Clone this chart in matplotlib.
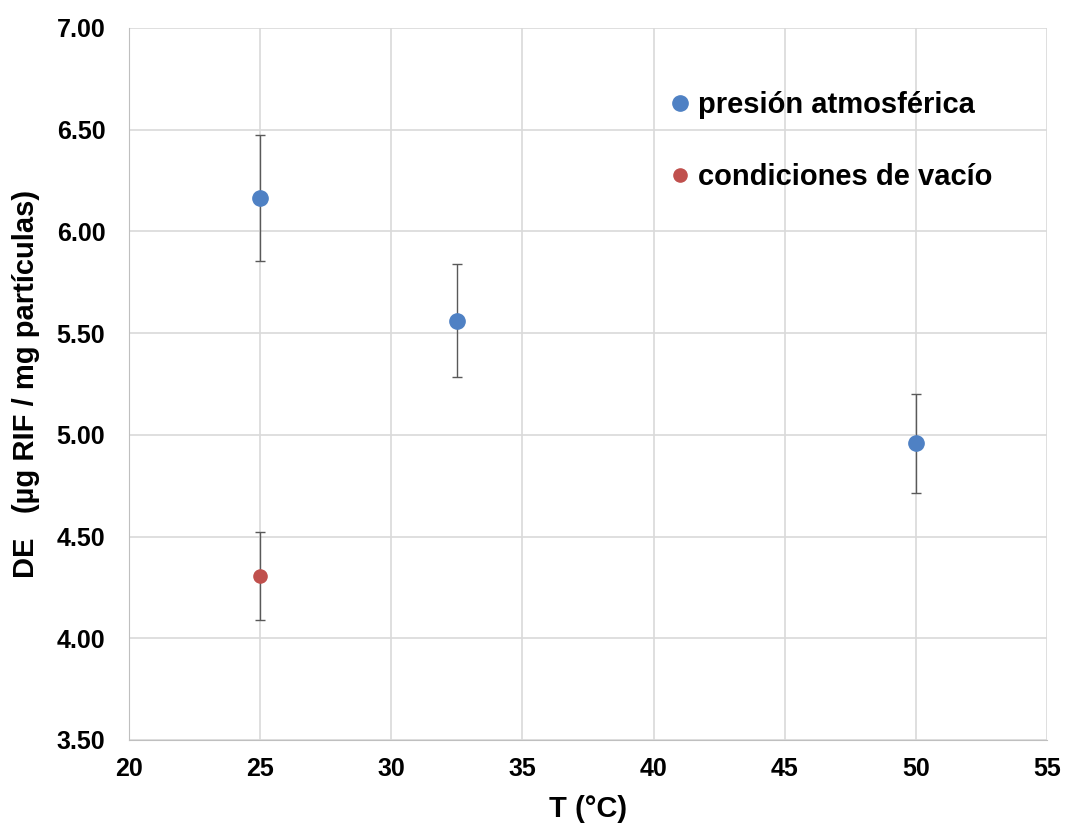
import matplotlib.pyplot as plt

# --- data ---
t_atm = [25, 32.5, 50]
de_atm = [6.165, 5.562, 4.958]
err_atm = [0.31, 0.28, 0.245]

t_vac = [25]
de_vac = [4.305]
err_vac = [0.215]

x_ticks = [20, 25, 30, 35, 40, 45, 50, 55]
y_ticks = [3.5, 4.0, 4.5, 5.0, 5.5, 6.0, 6.5, 7.0]

plt.rcParams['font.family'] = ['Liberation Sans', 'DejaVu Sans']
plt.rcParams['font.weight'] = 'bold'

fig = plt.figure(figsize=(10.65, 8.23), dpi=100)
ax = fig.add_axes([0.1211, 0.1009, 0.862, 0.8651])

ax.errorbar(t_atm, de_atm, yerr=err_atm, fmt='o', color='#4f81c4', ms=11,
            ecolor='#595959', elinewidth=1.0, capsize=3.5, capthick=1.0,
            label='presión atmosférica', zorder=3)
ax.errorbar(t_vac, de_vac, yerr=err_vac, fmt='o', color='#c0504d', ms=9.5,
            ecolor='#595959', elinewidth=1.0, capsize=3.5, capthick=1.0,
            label='condiciones de vacío', zorder=3)

ax.set_xlim(20, 55)
ax.set_ylim(3.5, 7.0)
ax.set_xticks(x_ticks)
ax.set_yticks(y_ticks)
ax.set_yticklabels([f'{v:.2f}' for v in y_ticks])
ax.tick_params(labelsize=18, length=0)
ax.tick_params(axis='y', pad=17)
ax.tick_params(axis='x', pad=12)
ax.grid(True, color='#d9d9d9', linewidth=1.2)
ax.set_axisbelow(True)
for s in ['top', 'right']:
    ax.spines[s].set_visible(False)
for s in ['left', 'bottom']:
    ax.spines[s].set_color('#bfbfbf')

ax.set_xlabel('T (°C)', fontsize=21, fontweight='bold', labelpad=10)
ax.set_ylabel('DE   (µg RIF / mg partículas)', fontsize=21, fontweight='bold', labelpad=12)

handles, labels = ax.get_legend_handles_labels()
handles = [h[0] for h in handles]
ax.legend(handles, labels, loc='upper left', bbox_to_anchor=(0.553, 0.948),
          frameon=False, fontsize=21, handletextpad=0.0, labelspacing=1.5,
          handlelength=1.2)

fig.savefig('out.png', dpi=100)
